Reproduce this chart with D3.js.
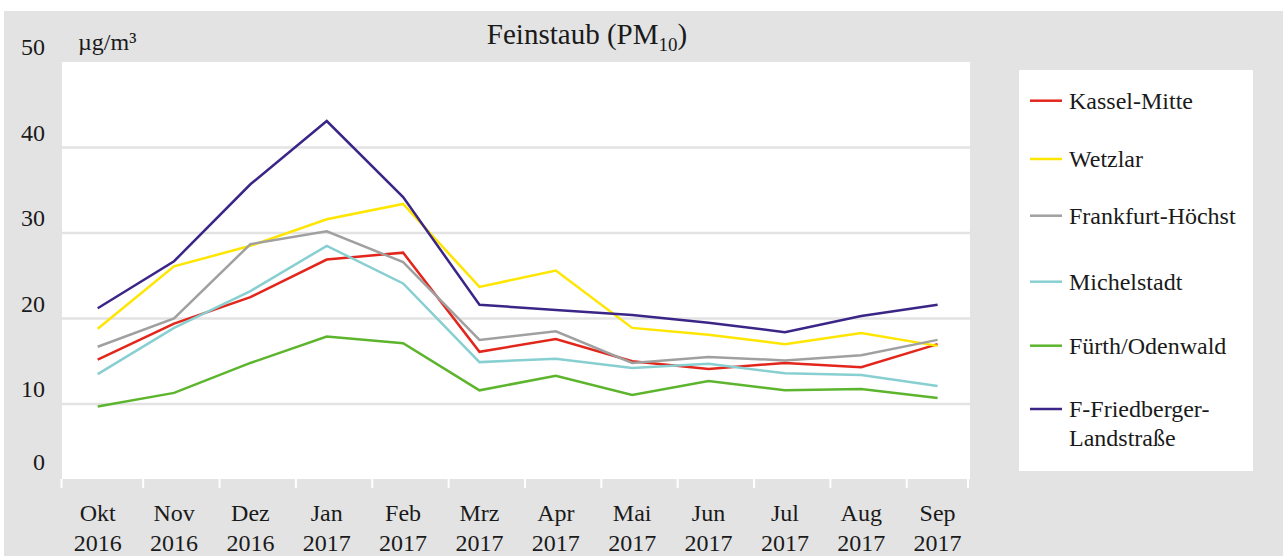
<!DOCTYPE html>
<html>
<head>
<meta charset="utf-8">
<script src="https://cdn.jsdelivr.net/npm/d3@7"></script>
<style>
  html, body { margin: 0; padding: 0; background: #fff; }
  svg { display: block; font-family: 'Liberation Serif', 'Times New Roman', serif; }
</style>
</head>
<body>
<svg id="chart" width="1288" height="556"></svg>
<script>
const MONTHS = ['Okt', 'Nov', 'Dez', 'Jan', 'Feb', 'Mrz', 'Apr', 'Mai', 'Jun', 'Jul', 'Aug', 'Sep']
const YEARS = ['2016', '2016', '2016', '2017', '2017', '2017', '2017', '2017', '2017', '2017', '2017', '2017']
const Y_TICKS = [0, 10, 20, 30, 40, 50]

const SERIES_NAMES = ['Kassel-Mitte', 'Wetzlar', 'Frankfurt-Höchst', 'Michelstadt', 'Fürth/Odenwald', 'F-Friedberger-Landstraße']
const KASSEL = [15.2, 19.4, 22.5, 26.9, 27.7, 16.1, 17.6, 15.0, 14.1, 14.8, 14.3, 17.0]
const WETZLAR = [18.8, 26.1, 28.5, 31.6, 33.4, 23.7, 25.6, 18.9, 18.1, 17.0, 18.3, 16.8]
const HOECHST = [16.7, 20.0, 28.7, 30.2, 26.6, 17.5, 18.5, 14.8, 15.5, 15.1, 15.7, 17.5]
const MICHELSTADT = [13.5, 18.9, 23.2, 28.5, 24.1, 14.9, 15.3, 14.2, 14.7, 13.6, 13.4, 12.1]
const FUERTH = [9.7, 11.3, 14.8, 17.9, 17.1, 11.6, 13.3, 11.05, 12.7, 11.6, 11.75, 10.7]
const FRIEDBERGER = [21.2, 26.7, 35.7, 43.1, 34.2, 21.6, 21.0, 20.4, 19.5, 18.4, 20.3, 21.6]
const COLORS = ['#e3261c', '#ffe600', '#a0a0a0', '#88cfd1', '#5db52e', '#3b2687']

const seriesData = [KASSEL, WETZLAR, HOECHST, MICHELSTADT, FUERTH, FRIEDBERGER]
  .map((values, i) => ({ name: SERIES_NAMES[i], color: COLORS[i], values }))

const svg = d3.select('#chart')
const plot = { left: 62, right: 970, top: 62, bottom: 479 }

// background
svg.append('rect')
  .attr('x', 4).attr('y', 11)
  .attr('width', 1279).attr('height', 545)
  .attr('fill', '#e3e3e3')

svg.append('rect')
  .attr('x', plot.left).attr('y', plot.top)
  .attr('width', plot.right - plot.left).attr('height', plot.bottom - plot.top)
  .attr('fill', '#fff')

const x = d3.scalePoint().domain(MONTHS).range([97.7, 937.6])
const y = d3.scaleLinear().domain([0, 50]).range([489.5, 62])

// grid
svg.append('g')
  .selectAll('line')
  .data(Y_TICKS.filter((d) => d > 0 && d < 50))
  .enter()
  .append('line')
  .attr('x1', plot.left).attr('x2', plot.right)
  .attr('y1', (d) => y(d)).attr('y2', (d) => y(d))
  .attr('stroke', '#e3e3e3')
  .attr('stroke-width', 2.5)

// y labels (sit above their grid lines)
svg.append('g')
  .attr('font-size', 24)
  .attr('fill', '#1a1a1a')
  .attr('text-anchor', 'end')
  .selectAll('text')
  .data(Y_TICKS)
  .enter()
  .append('text')
  .attr('x', 45)
  .attr('y', (d) => Math.min(y(d) - 15, 462))
  .attr('dy', '0.35em')
  .text((d) => d)

svg.append('text')
  .attr('x', 78).attr('y', 42)
  .attr('dy', '0.35em')
  .attr('font-size', 24)
  .attr('fill', '#1a1a1a')
  .text('µg/m³')

// x ticks
const tickXs = [plot.left - 0.5]
  .concat(MONTHS.slice(0, -1).map((m) => x(m) + 45.5))
  .concat([968])
svg.append('g')
  .selectAll('line')
  .data(tickXs)
  .enter()
  .append('line')
  .attr('x1', (d) => d).attr('x2', (d) => d)
  .attr('y1', plot.bottom).attr('y2', 488)
  .attr('stroke', '#fff')
  .attr('stroke-width', 2)

const xLabels = svg.append('g')
  .attr('font-size', 24)
  .attr('fill', '#1a1a1a')
  .attr('text-anchor', 'middle')
  .selectAll('g')
  .data(MONTHS)
  .enter()
  .append('g')
  .attr('transform', (d) => `translate(${x(d)}, 0)`)
xLabels.append('text')
  .attr('y', 513).attr('dy', '0.35em')
  .text((d) => d)
xLabels.append('text')
  .attr('y', 543).attr('dy', '0.35em')
  .text((d, i) => YEARS[i])

// lines
const line = d3.line()
  .x((d, i) => x(MONTHS[i]))
  .y((d) => y(d))

svg.append('g')
  .selectAll('path')
  .data(seriesData)
  .enter()
  .append('path')
  .attr('d', (d) => line(d.values))
  .attr('fill', 'none')
  .attr('stroke', (d) => d.color)
  .attr('stroke-width', 2.5)
  .attr('stroke-linejoin', 'miter')

// title
const title = svg.append('text')
  .attr('x', 587).attr('y', 34)
  .attr('dy', '0.35em')
  .attr('text-anchor', 'middle')
  .attr('font-size', 29)
  .attr('fill', '#1a1a1a')
title.append('tspan').text('Feinstaub (PM')
title.append('tspan').attr('font-size', 19).attr('dy', 7).text('10')
title.append('tspan').attr('dy', -7).text(')')

// legend
svg.append('rect')
  .attr('x', 1019).attr('y', 70)
  .attr('width', 234).attr('height', 401)
  .attr('fill', '#fff')

const legendYs = [100.7, 159, 215.7, 281.7, 345.7, 409]
const legend = svg.append('g')
  .selectAll('g')
  .data(seriesData)
  .enter()
  .append('g')
  .attr('transform', (d, i) => `translate(0, ${legendYs[i]})`)

legend.append('line')
  .attr('x1', 1030).attr('x2', 1062)
  .attr('stroke', (d) => d.color)
  .attr('stroke-width', 2.5)

legend.append('text')
  .attr('x', 1069)
  .attr('font-size', 24)
  .attr('fill', '#1a1a1a')
  .selectAll('tspan')
  .data((d) => d.name === 'F-Friedberger-Landstraße' ? ['F-Friedberger-', 'Landstraße'] : [d.name])
  .enter()
  .append('tspan')
  .attr('x', 1069)
  .attr('y', (d, i) => i * 29)
  .attr('dy', '0.35em')
  .text((d) => d)
</script>
</body>
</html>
